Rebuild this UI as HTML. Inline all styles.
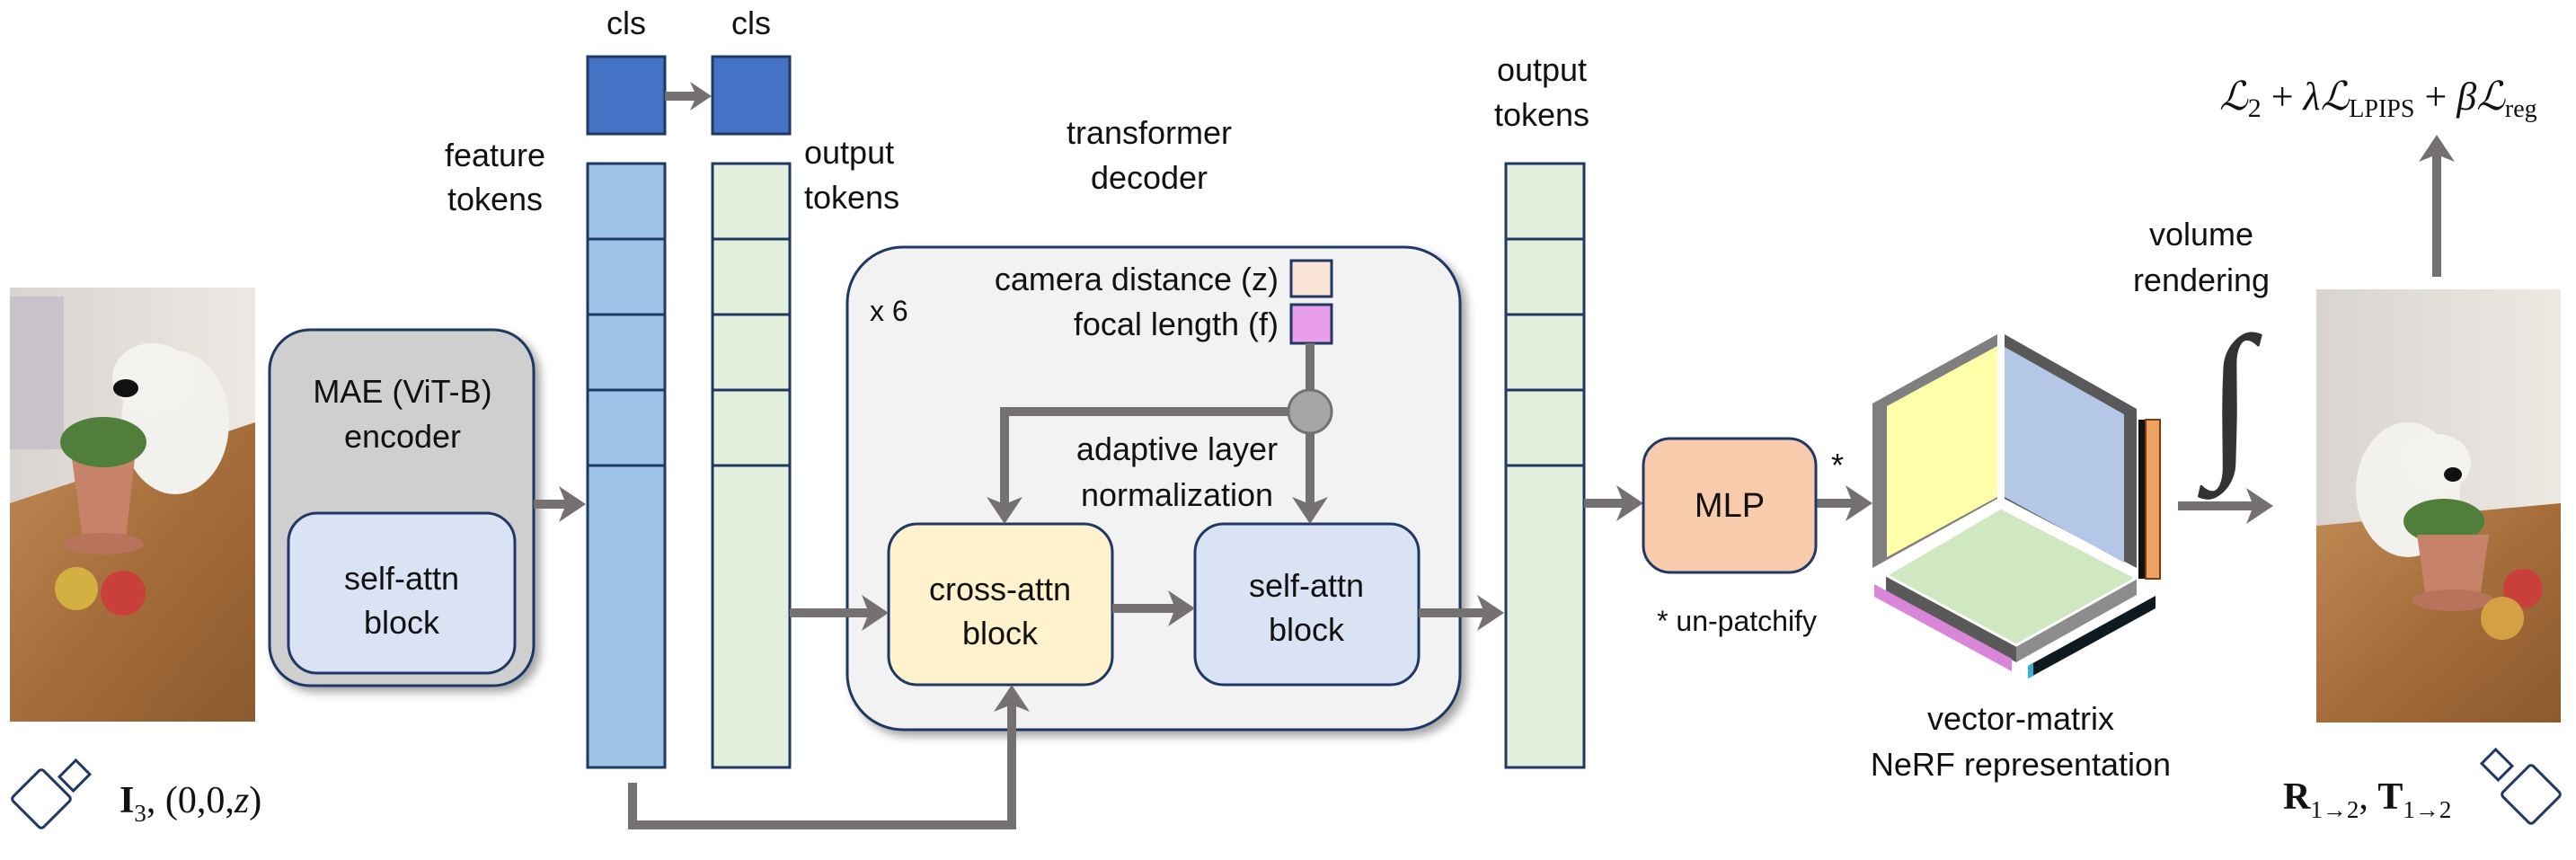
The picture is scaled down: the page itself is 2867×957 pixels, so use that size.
<!DOCTYPE html>
<html><head><meta charset="utf-8"><style>
html,body{margin:0;padding:0;background:#fff;}
svg{display:block;}
text{font-family:"Liberation Sans",sans-serif;fill:#111;}
.s{font-family:"Liberation Serif",serif;}
</style></head><body>
<svg width="2867" height="957" viewBox="0 0 2867 957" xmlns="http://www.w3.org/2000/svg">
<defs>
<filter id="sh" x="-10%" y="-10%" width="130%" height="130%"><feDropShadow dx="6" dy="6" stdDeviation="5" flood-color="#000" flood-opacity="0.35"/></filter>
<linearGradient id="wood" x1="0" y1="0" x2="1" y2="1"><stop offset="0" stop-color="#c08a55"/><stop offset="0.5" stop-color="#a56d3a"/><stop offset="1" stop-color="#8c5a2e"/></linearGradient>
<linearGradient id="wall" x1="0" y1="0" x2="1" y2="0"><stop offset="0" stop-color="#d9d4cf"/><stop offset="1" stop-color="#ece8e2"/></linearGradient>
</defs>

<!-- Left photo -->
<g>
<rect x="11" y="320" width="273" height="483" fill="url(#wall)"/>
<polygon points="11,560 284,470 284,803 11,803" fill="url(#wood)"/>
<rect x="11" y="330" width="60" height="170" fill="#c9c2c8"/>
<ellipse cx="195" cy="470" rx="60" ry="80" fill="#f2f1ee"/>
<ellipse cx="170" cy="420" rx="45" ry="38" fill="#f4f3f0"/>
<ellipse cx="140" cy="432" rx="14" ry="10" fill="#111"/>
<polygon points="80,510 150,510 140,600 92,600" fill="#c7826a"/>
<ellipse cx="115" cy="605" rx="45" ry="12" fill="#b8735c"/>
<ellipse cx="115" cy="492" rx="48" ry="28" fill="#4f7f3a"/>
<circle cx="85" cy="655" r="24" fill="#d4b043"/>
<circle cx="137" cy="660" r="25" fill="#c9403a"/>
</g>
<!-- left camera -->
<g fill="none" stroke="#1f3864" stroke-width="3">
<rect x="22" y="865" width="48" height="48" transform="rotate(45 46 889)" rx="4"/>
<rect x="72" y="850" width="22" height="26" transform="rotate(45 83 863)"/>
</g>
<text x="133" y="904" class="s" font-size="42"><tspan font-weight="bold">I</tspan><tspan font-size="27" dy="10">3</tspan><tspan dy="-10">, (0,0,</tspan><tspan font-style="italic">z</tspan><tspan>)</tspan></text>

<!-- MAE -->
<rect x="300" y="367" width="294" height="396" rx="45" fill="#d0cfd0" stroke="#1f3864" stroke-width="3" filter="url(#sh)"/>
<text x="448" y="448" font-size="36" text-anchor="middle">MAE (ViT-B)</text>
<text x="448" y="498" font-size="36" text-anchor="middle">encoder</text>
<rect x="321" y="571" width="252" height="178" rx="32" fill="#dae3f3" stroke="#1f3864" stroke-width="3"/>
<text x="447" y="656" font-size="36" text-anchor="middle">self-attn</text>
<text x="447" y="705" font-size="36" text-anchor="middle">block</text>

<!-- labels -->
<text x="551" y="185" font-size="36" text-anchor="middle">feature</text>
<text x="551" y="234" font-size="36" text-anchor="middle">tokens</text>
<text x="697" y="38" font-size="36" text-anchor="middle">cls</text>
<text x="836" y="38" font-size="36" text-anchor="middle">cls</text>
<text x="895" y="182" font-size="36">output</text>
<text x="895" y="232" font-size="36">tokens</text>
<text x="1279" y="160" font-size="36" text-anchor="middle">transformer</text>
<text x="1279" y="210" font-size="36" text-anchor="middle">decoder</text>
<text x="1716" y="90" font-size="36" text-anchor="middle">output</text>
<text x="1716" y="140" font-size="36" text-anchor="middle">tokens</text>

<!-- cls boxes -->
<rect x="654" y="63" width="86" height="86" fill="#4472c4" stroke="#1f3864" stroke-width="3"/>
<rect x="793" y="63" width="86" height="86" fill="#4472c4" stroke="#1f3864" stroke-width="3"/>

<!-- columns -->
<g stroke="#1f3864" stroke-width="3">
<rect x="654" y="182" width="86" height="672" fill="#9dc3e6"/>
<line x1="654" y1="266" x2="740" y2="266"/><line x1="654" y1="350" x2="740" y2="350"/><line x1="654" y1="434" x2="740" y2="434"/><line x1="654" y1="518" x2="740" y2="518"/>
<rect x="793" y="182" width="86" height="672" fill="#e2efda"/>
<line x1="793" y1="266" x2="879" y2="266"/><line x1="793" y1="350" x2="879" y2="350"/><line x1="793" y1="434" x2="879" y2="434"/><line x1="793" y1="518" x2="879" y2="518"/>
<rect x="1676" y="182" width="87" height="672" fill="#e2efda"/>
<line x1="1676" y1="266" x2="1763" y2="266"/><line x1="1676" y1="350" x2="1763" y2="350"/><line x1="1676" y1="434" x2="1763" y2="434"/><line x1="1676" y1="518" x2="1763" y2="518"/>
</g>

<!-- decoder -->
<rect x="943" y="275" width="682" height="537" rx="62" fill="#f2f2f2" stroke="#1f3864" stroke-width="3" filter="url(#sh)"/>
<text x="968" y="357" font-size="32">x 6</text>
<text x="1423" y="323" font-size="36" text-anchor="end">camera distance (z)</text>
<text x="1423" y="373" font-size="36" text-anchor="end">focal length (f)</text>
<rect x="1437" y="290" width="45" height="40" fill="#fbe5d6" stroke="#1f3864" stroke-width="3"/>
<rect x="1437" y="339" width="45" height="43" fill="#e89ee8" stroke="#1f3864" stroke-width="3"/>
<text x="1310" y="512" font-size="36" text-anchor="middle">adaptive layer</text>
<text x="1310" y="563" font-size="36" text-anchor="middle">normalization</text>
<rect x="989" y="583" width="249" height="179" rx="32" fill="#fff2cc" stroke="#1f3864" stroke-width="3"/>
<text x="1113" y="668" font-size="36" text-anchor="middle">cross-attn</text>
<text x="1113" y="717" font-size="36" text-anchor="middle">block</text>
<rect x="1330" y="583" width="249" height="179" rx="32" fill="#dae3f3" stroke="#1f3864" stroke-width="3"/>
<text x="1454" y="664" font-size="36" text-anchor="middle">self-attn</text>
<text x="1454" y="713" font-size="36" text-anchor="middle">block</text>

<!-- arrows -->
<g stroke="#767171" stroke-width="10" fill="none">
<line x1="594" y1="561" x2="630" y2="561"/>
<line x1="740" y1="107" x2="775" y2="107"/>
<line x1="879" y1="682" x2="967" y2="682"/>
<line x1="1238" y1="677" x2="1308" y2="677"/>
<line x1="1579" y1="682" x2="1652" y2="682"/>
<line x1="1763" y1="560" x2="1807" y2="560"/>
<line x1="2021" y1="560" x2="2062" y2="560"/>
<line x1="2424" y1="563" x2="2508" y2="563"/>
<line x1="2712" y1="308" x2="2712" y2="172"/>
<polyline points="1458,382 1458,561"/>
<polyline points="1458,458 1118,458 1118,561"/>
<polyline points="704,871 704,918 1126,918 1126,784"/>
</g>
<g fill="#767171">
<polygon points="652,561 622,541 630,561 622,581"/>
<polygon points="792,107 768,91 775,107 768,123"/>
<polygon points="989,682 959,662 967,682 959,702"/>
<polygon points="1330,677 1300,657 1308,677 1300,697"/>
<polygon points="1674,682 1644,662 1652,682 1644,702"/>
<polygon points="1829,560 1799,540 1807,560 1799,580"/>
<polygon points="2084,560 2054,540 2062,560 2054,580"/>
<polygon points="2530,563 2500,543 2508,563 2500,583"/>
<polygon points="2712,150 2692,180 2712,172 2732,180"/>
<polygon points="1458,583 1438,553 1458,561 1478,553"/>
<polygon points="1118,583 1098,553 1118,561 1138,553"/>
<polygon points="1126,762 1106,792 1126,784 1146,792"/>
</g>
<circle cx="1458" cy="458" r="24" fill="#a6a6a6" stroke="#767171" stroke-width="3"/>

<!-- MLP -->
<rect x="1829" y="488" width="192" height="149" rx="30" fill="#f8cbad" stroke="#1f3864" stroke-width="3"/>
<text x="1925" y="575" font-size="38" text-anchor="middle">MLP</text>
<text x="2045" y="530" font-size="36" text-anchor="middle">*</text>
<text x="1933" y="702" font-size="32" text-anchor="middle">* un-patchify</text>

<!-- cube -->
<polygon points="2084,449 2223,372 2223,555 2084,632" fill="#7f7f7f"/>
<polygon points="2100,452 2223,385 2223,553 2100,620" fill="#ffffaa"/>
<polygon points="2231,372 2378,455 2378,632 2231,555" fill="#595959"/>
<polygon points="2231,386 2364,461 2364,626 2231,553" fill="#b4c7e7"/>
<line x1="2227" y1="372" x2="2227" y2="560" stroke="#fff" stroke-width="4"/>
<polygon points="2099,640 2244,718 2244,737 2099,659" fill="#595959"/>
<polygon points="2244,718 2378,643 2378,662 2244,737" fill="#8c8c8c"/>
<polygon points="2227,565 2378,643 2244,718 2099,640" fill="#d0e8bf" stroke="#fff" stroke-width="3"/>
<polygon points="2086,650 2239,733 2239,747 2086,664" fill="#d986d9"/>
<polygon points="2257,741 2399,663 2399,677 2257,755" fill="#0d1b20"/>
<polygon points="2257,741 2263,738 2263,752 2257,755" fill="#2fb5d6"/>
<rect x="2380" y="467" width="8" height="177" fill="#111"/>
<rect x="2388" y="467" width="16" height="177" fill="#f0a060" stroke="#7a3d10" stroke-width="2"/>
<text x="2249" y="812" font-size="36" text-anchor="middle">vector-matrix</text>
<text x="2249" y="863" font-size="36" text-anchor="middle">NeRF representation</text>

<!-- volume rendering -->
<text x="2450" y="273" font-size="36" text-anchor="middle">volume</text>
<text x="2450" y="324" font-size="36" text-anchor="middle">rendering</text>
<text x="2482" y="505" class="s" font-size="190" text-anchor="middle" style="fill:#333">∫</text>

<!-- right photo -->
<g>
<rect x="2578" y="322" width="272" height="482" fill="url(#wall)"/>
<polygon points="2578,585 2850,560 2850,804 2578,804" fill="url(#wood)"/>
<ellipse cx="2680" cy="545" rx="58" ry="75" fill="#f2f1ee"/>
<ellipse cx="2712" cy="515" rx="38" ry="32" fill="#f4f3f0"/>
<ellipse cx="2730" cy="528" rx="10" ry="8" fill="#111"/>
<ellipse cx="2720" cy="580" rx="45" ry="25" fill="#4f7f3a"/>
<polygon points="2690,595 2770,595 2760,665 2700,665" fill="#c7826a"/>
<ellipse cx="2730" cy="668" rx="45" ry="12" fill="#b8735c"/>
<circle cx="2808" cy="655" r="22" fill="#c9403a"/>
<circle cx="2785" cy="688" r="24" fill="#d4a043"/>
</g>
<!-- right camera -->
<g fill="none" stroke="#1f3864" stroke-width="3">
<rect x="2793" y="860" width="48" height="48" transform="rotate(45 2817 884)" rx="4"/>
<rect x="2768" y="838" width="22" height="26" transform="rotate(-45 2779 851)"/>
</g>
<text x="2541" y="900" class="s" font-size="42"><tspan font-weight="bold">R</tspan><tspan font-size="27" dy="10">1→2</tspan><tspan dy="-10">, </tspan><tspan font-weight="bold">T</tspan><tspan font-size="27" dy="10">1→2</tspan></text>

<!-- loss -->
<text x="2470" y="122" class="s" font-size="44"><tspan font-style="italic">ℒ</tspan><tspan font-size="30" dy="8">2</tspan><tspan dy="-8"> + </tspan><tspan font-style="italic">λℒ</tspan><tspan font-size="28" dy="8">LPIPS</tspan><tspan dy="-8"> + </tspan><tspan font-style="italic">βℒ</tspan><tspan font-size="28" dy="8">reg</tspan></text>
</svg>
</body></html>
